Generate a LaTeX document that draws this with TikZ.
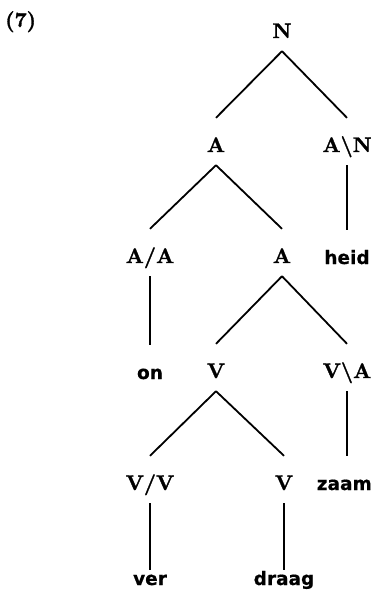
\documentclass[tikz,border=0pt]{standalone}
\usepackage{fontspec}
\newfontfamily\wordfont{DejaVu Sans}[BoldFeatures={FakeBold=0.6}]
\newfontfamily\catfont{lmroman10-bold}[Extension=.otf, FakeBold=1.4]
\tikzset{
  cat/.style={anchor=base, inner sep=0pt, text height=34pt, text depth=13pt,
    font=\fontsize{21}{25}\selectfont\catfont},
  word/.style={cat, font=\fontsize{18.5}{22}\selectfont\wordfont\bfseries},
  leaf/.style={word, text height=15pt},
  branch/.style={line width=1.8pt}
}
\begin{document}
\begin{tikzpicture}[x=1pt,y=-1pt]
\useasboundingbox (0,0) rectangle (374,597);
\node[anchor=base west, inner sep=0pt, font=\fontsize{21}{24}\selectfont\catfont] (num) at (5,27) {(7)};
\node[cat] (N) at (282,38) {N};
\node[cat] (A2) at (216,152) {A};
\node[cat] (AN) at (347,152) {A\textbackslash N};
\node[cat] (AA) at (150,263) {A/A};
\node[cat] (A3) at (282,263) {A};
\node[word] (heid) at (347,264) {heid};
\node[word] (on) at (150,379) {on};
\node[cat] (V4) at (216,378) {V};
\node[cat] (VA) at (347,378) {V\textbackslash A};
\node[cat] (VV) at (150,490) {V/V};
\node[cat] (V5) at (284,490) {V};
\node[word, anchor=base east] (zaam) at (372,490) {zaam};
\node[leaf] (ver) at (150,585) {ver};
\node[leaf] (draag) at (284,585) {draag};
\draw[branch] (N.south) -- (A2.north);
\draw[branch] (N.south) -- (AN.north);
\draw[branch] (A2.south) -- (AA.north);
\draw[branch] (A2.south) -- (A3.north);
\draw[branch] (AN.south) -- (heid.north);
\draw[branch] (AA.south) -- (on.north);
\draw[branch] (A3.south) -- (V4.north);
\draw[branch] (A3.south) -- (VA.north);
\draw[branch] (V4.south) -- (VV.north);
\draw[branch] (V4.south) -- (V5.north);
\draw[branch] (VA.south) -- (VA.south |- zaam.north);
\draw[branch] (VV.south) -- (ver.north);
\draw[branch] (V5.south) -- (draag.north);
\end{tikzpicture}
\end{document}
